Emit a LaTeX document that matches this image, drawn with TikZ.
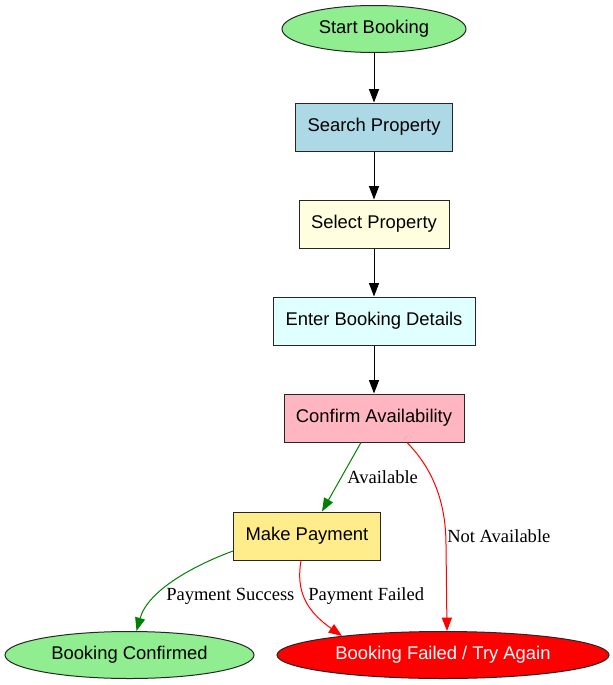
\documentclass[tikz,border=0pt]{standalone}
\usepackage{fontspec}
\setmainfont{Liberation Serif}
\newfontfamily\nodefont{Liberation Sans}
\usetikzlibrary{arrows.meta,calc,shapes.geometric}
\definecolor{lgreen}{HTML}{90EE90}
\definecolor{lblue}{HTML}{ADD8E6}
\definecolor{lyellow}{HTML}{FFFFE0}
\definecolor{lcyan}{HTML}{E0FFFF}
\definecolor{lpink}{HTML}{FFB6C1}
\definecolor{lgold}{HTML}{FFEC8B}
\definecolor{egreen}{HTML}{008000}
\definecolor{ered}{HTML}{FF0000}
\tikzset{
  base/.style={draw=black!85, line width=0.75pt, font=\nodefont\fontsize{13.8}{16}\selectfont, inner sep=0pt},
  boxnode/.style={base, rectangle},
  ellnode/.style={base, ellipse},
  flow/.style={line width=0.75pt, -{Triangle[length=10pt,width=7.5pt]}},
  elabel/.style={font=\fontsize{13.9}{16}\selectfont, inner sep=0pt}
}
\begin{document}
\begin{tikzpicture}[x=0.75pt,y=-0.75pt]
\useasboundingbox (0,0) rectangle (613,685);
\node[ellnode, fill=lgreen, minimum width=184*0.75pt, minimum height=47*0.75pt] (sb) at (374,29) {Start Booking};
\node[boxnode, fill=lblue, minimum width=157*0.75pt, minimum height=48*0.75pt] (sp) at (374,127) {Search Property};
\node[boxnode, fill=lyellow, minimum width=150*0.75pt, minimum height=48*0.75pt] (sel) at (374,224) {Select Property};
\node[boxnode, fill=lcyan, minimum width=202*0.75pt, minimum height=48*0.75pt] (ebd) at (374,321) {Enter Booking Details};
\node[boxnode, fill=lpink, minimum width=180*0.75pt, minimum height=48*0.75pt] (ca) at (374,418) {Confirm Availability};
\node[boxnode, fill=lgold, minimum width=147*0.75pt, minimum height=48*0.75pt] (mp) at (307,536) {Make Payment};
\node[ellnode, fill=lgreen, minimum width=249*0.75pt, minimum height=47*0.75pt] (bc) at (129.5,655) {Booking Confirmed};
\node[ellnode, fill=ered, text=white, minimum width=332*0.75pt, minimum height=47*0.75pt] (bf) at (443,655) {Booking Failed / Try Again};

\draw[flow] (sb) -- (sp);
\draw[flow] (sp) -- (sel);
\draw[flow] (sel) -- (ebd);
\draw[flow] (ebd) -- (ca);

\draw[flow, egreen] ($(ca.south)+(-13,0)$) -- ($(mp.north)+(15,0)$);
\node[elabel, anchor=west] (lav) at (347,477) {Available};

\draw[flow, ered] ($(ca.south)+(33,0)$) .. controls (428,464) and (446,495) .. (446,545) -- ($(bf.north)+(4,0)$);
\node[elabel, anchor=west] (lna) at (447,536) {Not Available};

\draw[flow, egreen] ($(mp.west)+(0,15)$) .. controls (195,565) and (148,590) .. ($(bc.north)+(7,0)$);
\node[elabel, anchor=west] (lps) at (166,596) {Payment Success};

\draw[flow, ered] ($(mp.south)+(-6,0)$) .. controls (296,590) and (305,610) .. (342,636);
\node[elabel, anchor=west] (lpf) at (308,596) {Payment Failed};
\end{tikzpicture}
\end{document}
